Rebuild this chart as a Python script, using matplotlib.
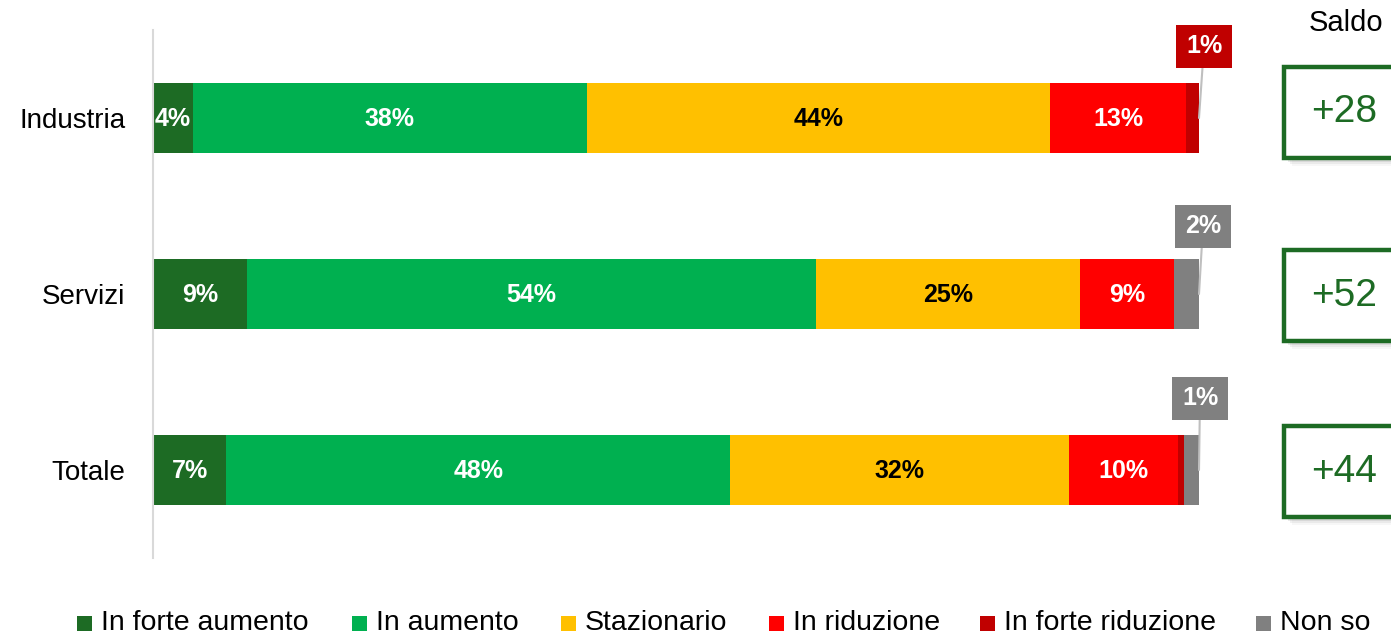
import matplotlib
matplotlib.use("Agg")
import matplotlib.pyplot as plt
from matplotlib.patches import Rectangle

plt.rcParams['font.family'] = ['Liberation Sans', 'DejaVu Sans']

# ---- data ----
categories = ["Industria", "Servizi", "Totale"]
series_names = ["In forte aumento", "In aumento", "Stazionario",
                "In riduzione", "In forte riduzione", "Non so"]
forte_aumento = [3.8, 9.0, 7.0]
aumento = [37.7, 54.4, 48.2]
stazionario = [44.3, 25.2, 32.4]
riduzione = [13.0, 9.0, 10.4]
forte_riduzione = [1.2, 0.0, 0.6]
non_so = [0.0, 2.4, 1.4]
saldo = ["+28", "+52", "+44"]
# which segment of each bar gets an outside callout label
callout_series = [4, 5, 5]

series = [forte_aumento, aumento, stazionario, riduzione, forte_riduzione, non_so]
colors = ["#1D6B24", "#00B050", "#FFC000", "#FF0000", "#C00000", "#808080"]
text_colors = ["white", "white", "black", "white", "white", "white"]

W, H = 1391, 635
fig = plt.figure(figsize=(W / 100, H / 100), dpi=100)

def fx(px):
    return px / W

def fy(py):
    return 1 - py / H

ax_left, ax_right, ax_top, ax_bottom = 153, 1199, 30, 558
ax = fig.add_axes([fx(ax_left), fy(ax_bottom), fx(ax_right - ax_left), (ax_bottom - ax_top) / H])

ypos = list(range(len(categories)))
left = [0.0] * len(categories)
for si, vals in enumerate(series):
    ax.barh(ypos, vals, left=left, height=0.4, color=colors[si], edgecolor='none')
    for ci, v in enumerate(vals):
        if v > 2.5 and callout_series[ci] != si:
            ax.text(left[ci] + v / 2, ci + 0.005, f"{v:.0f}%", ha='center', va='center',
                    color=text_colors[si], fontsize=18, fontweight='bold')
    left = [l + v for l, v in zip(left, vals)]

# callouts
callout_offsets = [(5, 72), (4, 68), (1, 72)]
for ci, si in enumerate(callout_series):
    v = series[si][ci]
    end = sum(s[ci] for s in series)
    dx, dy = callout_offsets[ci]
    ax.annotate(f"{v:.0f}%", xy=(end, ci), xytext=(dx, dy), textcoords='offset pixels',
                ha='center', va='center', color='white', fontsize=18, fontweight='bold',
                bbox=dict(boxstyle='square,pad=0.38', fc=colors[si], ec='none'),
                arrowprops=dict(arrowstyle='-', color='#BFBFBF', lw=1.5,
                                shrinkA=0, shrinkB=0),
                annotation_clip=False)

ax.set_xlim(0, 100)
ax.set_ylim(len(categories) - 0.5, -0.5)
ax.set_xticks([])
for s in ['top', 'right', 'bottom']:
    ax.spines[s].set_visible(False)
ax.spines['left'].set_color('#D9D9D9')
ax.spines['left'].set_linewidth(1.5)
ax.set_yticks(ypos)
ax.set_yticklabels(categories)
ax.tick_params(axis='y', length=0, pad=20, labelsize=20)

# Saldo header and boxes
fig.text(fx(1346), fy(23), "Saldo", ha='center', va='center', fontsize=21, color='black')
box_tops = [67, 250, 426]
box_h = 91
box_x = 1284
for ci, txt in enumerate(saldo):
    top = box_tops[ci]
    for k, (off, a) in enumerate([(8, 0.06), (6, 0.10), (4, 0.16)]):
        fig.add_artist(Rectangle((fx(box_x + off), fy(top + box_h + off)),
                                 fx(200), box_h / H, transform=fig.transFigure,
                                 fc='#7F7F7F', ec='none', alpha=a))
    fig.add_artist(Rectangle((fx(box_x), fy(top + box_h)), fx(200), box_h / H,
                             transform=fig.transFigure, fc='white', ec='#1D6B24', lw=3.2))
    fig.text(fx(1344), fy(top + box_h / 2), txt, ha='center', va='center',
             fontsize=28, color='#1D6B24')

# legend
sq_x = [77, 352, 561, 769, 980, 1256]
for si, name in enumerate(series_names):
    fig.add_artist(Rectangle((fx(sq_x[si]), fy(631)), fx(15), 15 / H,
                             transform=fig.transFigure, fc=colors[si], ec='none'))
    fig.text(fx(sq_x[si] + 24), fy(623), name, ha='left', va='center',
             fontsize=20.5, color='black')

fig.savefig("out.png", dpi=100)
